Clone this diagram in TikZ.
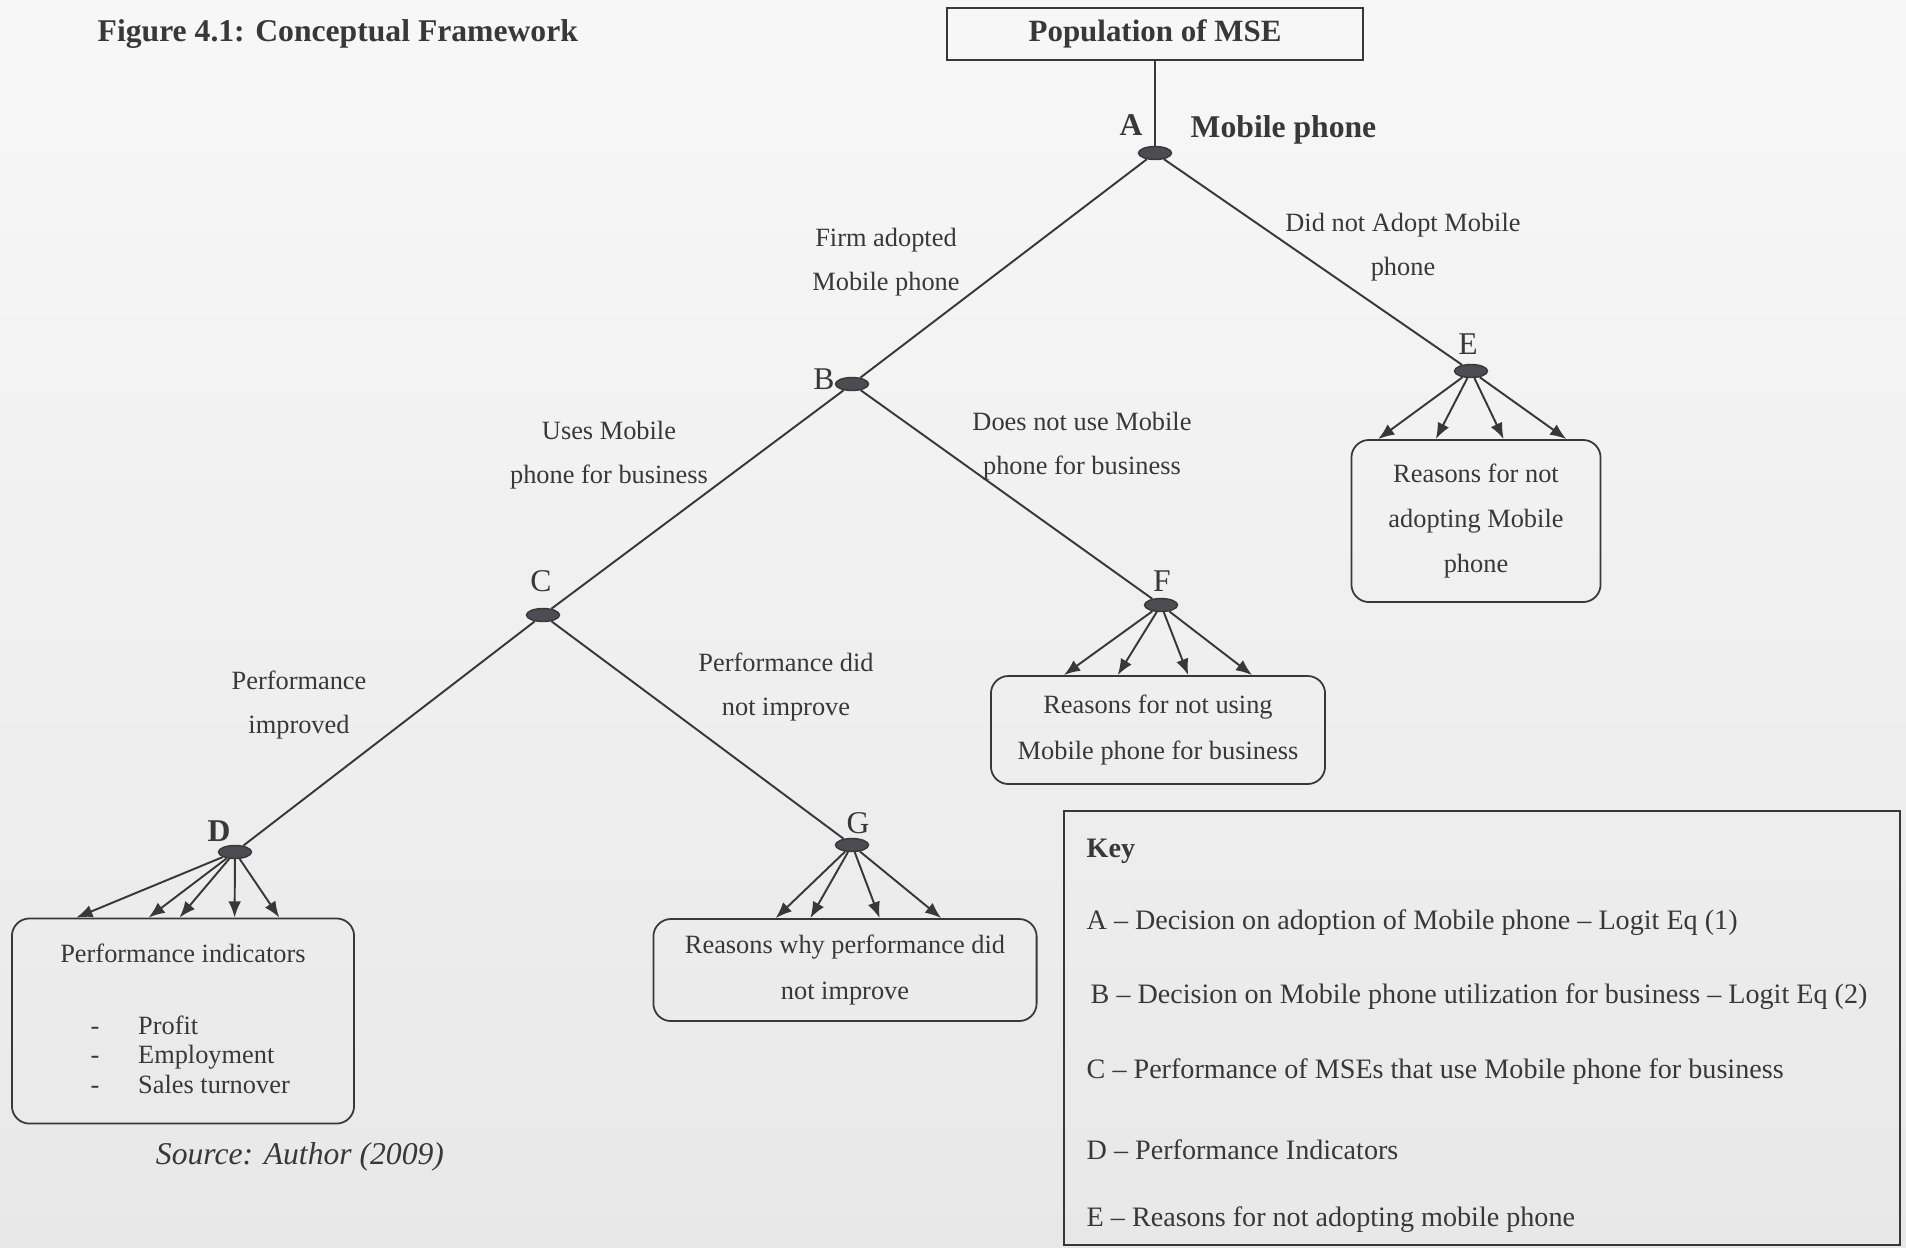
\documentclass[tikz,border=0pt]{standalone}
\usepackage{fontspec}
\setmainfont{Liberation Serif}
\usetikzlibrary{shapes.geometric,arrows.meta,calc}
\definecolor{inkgray}{rgb}{0.22,0.22,0.22}
\definecolor{dotgray}{rgb}{0.30,0.30,0.32}
\definecolor{papertop}{rgb}{0.97,0.97,0.97}
\definecolor{paperlow}{rgb}{0.91,0.91,0.91}

\begin{document}
\begin{tikzpicture}[x=0.01cm,y=-0.01cm,
  dot/.style={ellipse,draw=inkgray,fill=dotgray,minimum width=0.33cm,minimum height=0.13cm,inner sep=0pt},
  letter/.style={font=\fontsize{9}{10}\selectfont,text=inkgray,inner sep=0pt},
  branch/.style={font=\fontsize{7.5}{12.6}\selectfont,text=inkgray,align=center,inner sep=0pt},
  reason/.style={draw=inkgray,line width=0.5pt,rounded corners=5pt,font=\fontsize{7.5}{12.9}\selectfont,text=inkgray,align=center,inner sep=0pt},
  trunk/.style={draw=inkgray,line width=0.55pt},
  fan/.style={draw=inkgray,line width=0.55pt,-{Latex[length=4.6pt,width=3.6pt]}},
  keyline/.style={anchor=west,font=\fontsize{8}{9}\selectfont,text=inkgray,inner sep=0pt}]
%================================================================
%	Paper
\useasboundingbox (0,0) rectangle (1906,1247);
\shade[top color=papertop,bottom color=paperlow] (0,0) rectangle (1906,1247);
\node[anchor=west,font=\fontsize{9}{10}\selectfont\bfseries,text=inkgray,inner sep=0pt] (title) at (97,34) {Figure 4.1: Conceptual Framework};
%================================================================
%	Tree
\node[draw=inkgray,line width=0.5pt,minimum width=4.16cm,minimum height=0.47cm,font=\fontsize{8.8}{10}\selectfont\bfseries,text=inkgray] (pop) at (1155,34) {Population of MSE};
%----------------------------------------------------------------
\node[dot] (A) at (1155,153) {};
\node[dot] (B) at (852,384) {};
\node[dot] (C) at (543,615) {};
\node[dot] (D) at (235,852) {};
\node[dot] (E) at (1471,371) {};
\node[dot] (F) at (1161,605) {};
\node[dot] (G) at (852,845) {};
%----------------------------------------------------------------
\node[letter] (labA) at (1131,125) {\bfseries A};
\node[letter] (labB) at (824,379) {B};
\node[letter] (labC) at (541,581) {C};
\node[letter] (labD) at (219,831) {\bfseries D};
\node[letter] (labE) at (1468,344) {E};
\node[letter] (labF) at (1162,581) {F};
\node[letter] (labG) at (858,823) {G};
\node[anchor=west,font=\fontsize{9}{10}\selectfont\bfseries,text=inkgray,inner sep=0pt] (mobile) at (1190,130) {Mobile phone};
%----------------------------------------------------------------
\draw[trunk] (pop) -- (A);
\draw[trunk] (A) -- (B);
\draw[trunk] (A) -- (E);
\draw[trunk] (B) -- (C);
\draw[trunk] (B) -- (F);
\draw[trunk] (C) -- (D);
\draw[trunk] (C) -- (G);
%----------------------------------------------------------------
\node[branch] (adopted) at (886,262) {Firm adopted\\Mobile phone};
\node[branch] (notadopted) at (1403,247) {Did not Adopt Mobile\\phone};
\node[branch] (uses) at (609,455) {Uses Mobile\\phone for business};
\node[branch] (notuses) at (1082,446) {Does not use Mobile\\phone for business};
\node[branch] (improved) at (299,705) {Performance\\improved};
\node[branch] (notimproved) at (786,687) {Performance did\\not improve};
%================================================================
%	Outcomes
\node[reason,minimum width=2.49cm,minimum height=1.62cm] (boxE) at (1476,521) {Reasons for not\\adopting Mobile\\phone};
\node[reason,minimum width=3.34cm,minimum height=1.08cm] (boxF) at (1158,730) {Reasons for not using\\Mobile phone for business};
\node[reason,minimum width=3.83cm,minimum height=1.02cm] (boxG) at (845,970) {Reasons why performance did\\not improve};
\node[reason,minimum width=3.42cm,minimum height=2.05cm] (boxD) at (183,1021) {};
\node[branch] (indhead) at (183,953) {Performance indicators};
\node[anchor=west,font=\fontsize{7.5}{8.4}\selectfont,text=inkgray,inner sep=0pt] (indlist) at (90,1058)
  {\begin{tabular}{@{}l@{\hspace{11pt}}l@{}}-&Profit\\-&Employment\\-&Sales turnover\end{tabular}};
%----------------------------------------------------------------
\foreach \f in {0.11,0.34,0.61,0.86}
  \draw[fan] (E) -- ($(boxE.north west)!\f!(boxE.north east)$);
\foreach \f in {0.22,0.38,0.59,0.78}
  \draw[fan] (F) -- ($(boxF.north west)!\f!(boxF.north east)$);
\foreach \f in {0.32,0.41,0.59,0.75}
  \draw[fan] (G) -- ($(boxG.north west)!\f!(boxG.north east)$);
\foreach \f in {0.19,0.40,0.49,0.65,0.78}
  \draw[fan] (D) -- ($(boxD.north west)!\f!(boxD.north east)$);
%----------------------------------------------------------------
\node[font=\fontsize{9}{10}\selectfont\itshape,text=inkgray,inner sep=0pt] (source) at (300,1157) {Source: Author (2009)};
%================================================================
%	Key
\node[draw=inkgray,line width=0.5pt,minimum width=8.35cm,minimum height=4.34cm] (keybox) at (1482,1028) {};
\node[keyline] (keyhead) at (1086,851) {\bfseries Key};
\node[keyline] (keyA) at (1086,923) {A \textendash{} Decision on adoption of Mobile phone \textendash{} Logit Eq (1)};
\node[keyline] (keyB) at (1090,997) {B \textendash{} Decision on Mobile phone utilization for business \textendash{} Logit Eq (2)};
\node[keyline] (keyC) at (1086,1072) {C \textendash{} Performance of MSEs that use Mobile phone for business};
\node[keyline] (keyD) at (1086,1150) {D \textendash{} Performance Indicators};
\node[keyline] (keyE) at (1086,1220) {E \textendash{} Reasons for not adopting mobile phone};
%================================================================
\end{tikzpicture}
\end{document}
